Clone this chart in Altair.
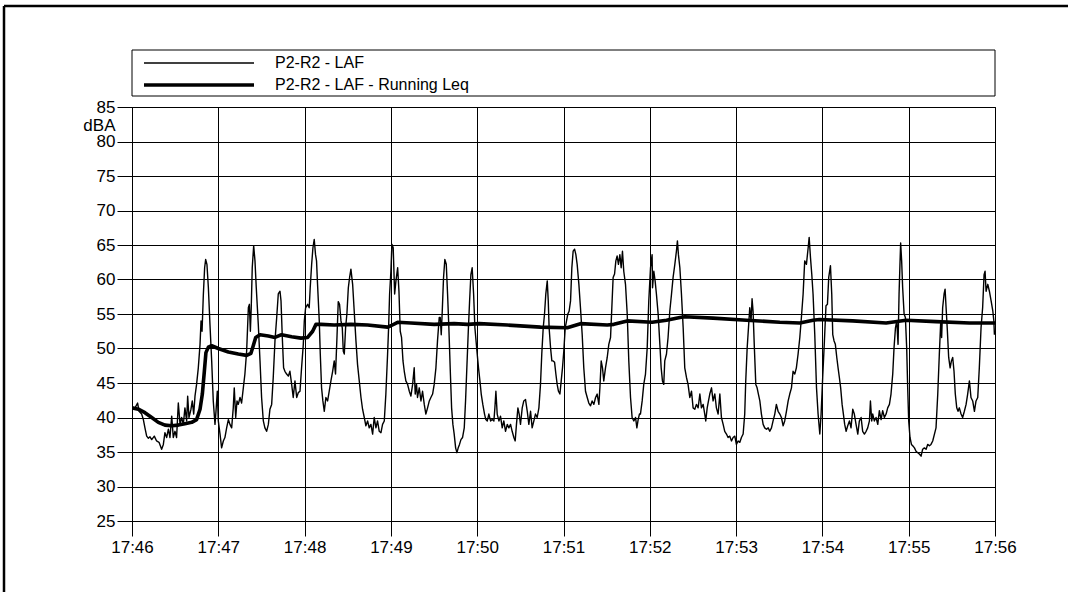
import altair as alt
import pandas as pd

# Sound level record P2-R2, 17:46 - 17:56 (time in seconds after 17:46:00)
laf_sec = [
    0.0, 0.9, 2.1, 3.9, 4.9, 6.7, 7.9, 9.0, 10.2, 11.4, 12.5, 13.7, 15.5, 17.1, 18.8, 20.6,
    21.8, 22.9, 24.1, 25.3, 26.4, 27.6, 28.7, 29.9, 31.0, 32.2, 33.4, 34.5, 35.7, 36.8, 38.0,
    38.7, 39.6, 41.0, 41.9, 42.9, 43.8, 44.9, 46.1, 47.3, 48.0, 48.7, 49.6, 50.5, 51.2, 52.1,
    53.1, 54.2, 55.4, 56.5, 57.7, 58.4, 59.3, 60.0, 61.2, 62.3, 63.5, 64.6, 65.8, 67.0, 68.1,
    69.3, 70.4, 71.1, 72.1, 73.0, 73.9, 75.1, 76.2, 77.4, 78.5, 79.7, 80.9, 81.6, 82.3, 82.9,
    83.6, 84.6, 85.5, 86.4, 87.8, 89.0, 90.1, 91.3, 92.4, 93.6, 94.8, 95.9, 97.1, 98.2, 99.4,
    100.6, 101.7, 102.9, 103.6, 104.5, 105.4, 106.3, 107.5, 108.7, 109.8, 111.0, 112.1, 113.3,
    114.5, 115.6, 116.8, 117.9, 119.1, 119.8, 120.7,
    122.1, 123.2, 123.9, 124.9, 125.8, 126.7, 127.6, 128.3, 129.0, 130.2, 130.9, 131.8, 132.7,
    133.7, 134.8, 136.0, 137.1, 138.3, 139.5, 140.6, 141.5, 142.5, 143.4, 144.3, 145.3, 146.2,
    146.9, 147.6, 148.5, 149.4, 150.4, 151.3, 152.2, 153.4, 154.5, 155.7, 156.8, 158.0, 159.2,
    160.3, 161.5, 162.6, 163.8, 164.9, 166.1, 167.3, 168.4, 169.6, 170.7, 171.9, 173.1, 174.2,
    175.4, 176.5, 177.7, 178.4, 179.1, 180.0, 180.7, 181.6, 182.6, 183.5, 184.7, 185.6, 186.5,
    187.4, 188.4, 189.3, 190.4, 191.6, 192.8, 193.9, 195.1, 196.2, 196.9, 197.8, 198.5, 199.7,
    200.9, 202.0, 203.2, 204.3, 205.5, 206.7, 207.8, 209.0, 210.1, 211.3, 212.4, 213.6, 214.3,
    215.0, 215.7, 216.6, 217.5, 218.5, 219.4, 220.3, 221.3, 222.2, 223.1, 224.0, 225.0, 225.9,
    226.8, 227.7, 228.7, 229.8, 231.0, 231.9, 232.8, 233.8, 234.7, 235.6, 236.5, 237.5, 238.4,
    240.0, 240.9, 241.9, 242.8, 243.9, 245.1, 246.0, 247.0, 248.1, 249.3, 250.4, 251.6, 252.3,
    253.0, 253.9, 255.1, 256.2, 257.4, 258.5, 259.7, 260.9, 262.0, 263.2, 264.3, 265.5, 266.4,
    267.3, 268.3, 269.2, 270.1, 271.3, 272.4, 273.6, 274.8, 275.9, 277.1, 278.2, 279.4, 280.5,
    281.7, 282.9, 284.0, 284.9, 285.9, 286.8, 287.7, 288.7, 289.4, 290.0, 291.0, 291.9, 292.8,
    293.8, 294.7, 295.6, 296.5, 297.5, 298.4, 299.3, 300.2, 301.2, 302.1, 303.0, 303.9, 304.9,
    305.8, 306.7, 307.7, 308.6, 309.5, 310.7, 311.8, 313.0, 314.1, 315.3, 316.5, 317.6, 318.8,
    319.9, 321.1, 322.3, 323.4, 324.6, 325.3, 326.2, 327.1, 328.0, 329.2, 330.4, 331.5, 332.7,
    333.6, 334.5, 335.5, 336.4, 337.3, 338.2, 339.2, 340.1, 341.0, 341.9, 343.1, 344.3, 345.4,
    346.6, 347.7, 348.9, 350.1, 351.0, 351.9, 352.8, 353.5, 354.7, 355.8, 357.0, 358.2, 359.3,
    360.5, 361.6, 361.9, 362.8, 363.7, 364.6, 365.8, 367.0, 367.9, 368.8, 369.7, 370.4, 371.6,
    372.7, 373.9, 375.1, 376.2, 377.4, 378.5, 379.2, 379.9, 380.9, 382.0, 383.2, 384.3, 385.5,
    386.6, 387.8, 389.0, 390.1, 391.3, 392.4, 393.6, 394.8, 395.9, 397.1, 398.2, 398.9, 399.9,
    400.8, 401.7, 402.9, 404.0, 405.2, 406.3, 407.5, 408.7, 409.8, 411.0, 412.1, 413.3, 414.4,
    415.6, 416.8, 417.9, 419.1, 420.2, 421.4, 422.6, 423.7, 424.9, 426.0, 426.7, 427.7, 428.6,
    429.5, 430.4, 431.1, 431.8, 432.7, 433.7, 434.6, 435.5, 436.5, 437.6, 438.8, 439.9, 441.1,
    442.3, 443.4, 444.6, 445.7, 446.9, 448.0, 449.2, 450.4, 451.5, 452.7, 453.8, 455.0, 456.2,
    457.3, 458.5, 459.6, 460.8, 461.9, 463.1, 464.3, 465.4, 466.6, 467.7, 468.9, 470.1, 470.8,
    471.7, 472.6, 473.5, 474.7, 475.9, 477.0, 478.2,
    479.1, 480.2, 481.4, 482.5, 483.5, 484.4, 485.6, 486.5, 487.2, 488.1, 489.0, 490.0, 490.9,
    491.8, 492.7, 493.7, 494.6, 495.5, 496.5, 497.6, 498.8, 499.9, 501.1, 502.2, 503.4, 504.6,
    505.7, 506.9, 508.0, 509.2, 510.4, 511.5, 512.7, 513.4, 514.3, 515.0, 516.1, 517.3, 518.5,
    519.6, 520.8, 521.9, 523.1, 524.3, 525.4, 526.6, 527.7, 528.9, 529.8, 530.8, 531.7, 532.6,
    533.3, 534.0, 534.4, 535.1, 535.8, 536.8, 537.7, 538.6, 539.3, 540.0, 540.9, 541.9, 542.8,
    544.0, 545.1, 546.3, 547.4, 548.6, 549.7, 550.9, 552.1, 553.2, 554.4, 555.5, 556.7, 557.9,
    559.0, 560.2, 561.3, 562.3, 562.9, 563.6, 564.6, 565.3, 566.0, 566.9, 567.8, 568.8, 569.7,
    570.6, 571.5, 572.4, 573.4, 574.3, 575.2, 576.4, 577.5, 578.7, 579.9, 581.0, 582.2, 583.3,
    584.5, 585.7, 586.8, 588.0, 589.1, 590.3, 591.4, 592.4, 593.1, 593.8, 595.0, 596.1, 597.3,
    598.5, 599.2, 599.6,
]
laf_db = [
    41.7, 41.2, 41.4, 42.1, 40.9, 40.5, 39.7, 38.5, 37.3, 37.0, 37.2, 36.8, 37.3, 36.6, 36.4, 35.4,
    36.1, 37.8, 37.1, 38.3, 37.1, 40.2, 37.1, 38.0, 37.1, 42.1, 39.0, 40.0, 39.0, 41.4, 39.5,
    43.1, 40.0, 41.2, 42.4, 40.5, 43.1, 44.8, 47.2, 50.6, 54.0, 52.5, 57.8, 61.7, 62.9, 62.2,
    58.8, 53.5, 48.2, 42.4, 39.0, 40.9, 43.8, 39.5, 37.6, 35.6, 36.6, 37.1, 38.5, 39.7, 39.0,
    38.5, 41.4, 44.3, 40.0, 42.4, 41.9, 42.9, 42.1, 44.3, 46.3, 49.6, 55.9, 56.4, 52.5, 55.9,
    61.7, 64.9, 62.7, 58.8, 53.5, 48.2, 42.9, 39.5, 38.5, 38.0, 39.0, 41.2, 41.9, 45.8, 51.1,
    54.5, 57.9, 58.3, 56.9, 51.6, 47.2, 46.7, 46.3, 46.0, 46.7, 44.8, 42.9, 45.3,
    42.9, 43.6, 43.8, 47.2, 50.6, 54.0, 55.9,
    56.4, 55.9, 58.8, 62.2, 64.6, 65.8, 63.6, 62.7, 59.3, 54.0, 49.2, 44.3, 42.4,
    40.9, 42.9, 42.4, 43.8, 45.3, 46.7, 48.2, 46.3, 51.6, 56.8, 56.4, 54.0, 53.0,
    49.6, 49.2, 53.0, 55.0, 58.8, 60.3, 61.5, 59.3, 55.4, 51.1, 47.7, 45.3, 42.9,
    41.2, 40.0, 38.8, 39.5, 38.5, 39.0, 37.6, 40.0, 38.5, 39.5, 38.0, 37.8, 39.0,
    39.5, 43.4, 49.2, 53.0, 57.9, 61.2, 65.1, 64.6, 57.9, 59.8, 61.7, 58.3, 52.5,
    51.6, 48.2, 46.7, 45.3, 44.8, 43.8, 43.1, 44.8, 47.2, 43.4, 44.8, 42.9, 44.3,
    42.4, 43.8, 41.9, 40.5, 41.4, 42.4, 42.9, 43.4, 44.8, 47.2, 51.1, 54.5, 54.5,
    52.0, 55.4, 60.3, 62.9, 62.2, 57.9, 53.0, 46.7, 41.4, 39.0, 37.6, 35.6, 34.9,
    35.6, 36.1, 36.8, 37.1, 38.5, 42.4, 47.2, 52.5, 56.8, 60.7, 61.7, 57.9, 53.0,
    49.2, 47.2, 45.3, 43.4, 41.9, 40.5, 39.7, 39.5, 40.5, 39.5, 39.7, 39.5, 41.4,
    43.8, 40.5, 39.5, 40.2, 38.5, 39.5, 38.0, 39.0, 38.5, 39.0, 38.0, 37.1, 36.6,
    39.0, 41.4, 40.5, 39.0, 41.4, 42.4, 42.6, 40.9, 39.0, 40.9, 38.5, 39.5, 40.5,
    40.0, 41.4, 44.8, 49.2, 53.0, 55.0, 57.9, 59.8, 56.9, 53.0, 50.1, 48.2, 48.2,
    48.0, 46.3, 44.8, 43.8, 43.4, 45.3, 47.2, 49.6, 53.0, 54.0, 55.0, 55.4, 56.9,
    61.7, 64.1, 64.4, 63.6, 62.2, 59.3, 55.9, 52.0, 47.2, 43.8, 42.9, 42.1, 41.7,
    42.4, 41.9, 42.9, 43.4, 41.9, 44.3, 48.2, 47.2, 45.3, 47.2, 48.7, 50.6, 51.6,
    55.9, 60.3, 60.8, 62.7, 63.4, 62.2, 63.6, 61.7, 64.1, 61.2, 59.3, 55.0, 48.2,
    42.9, 40.0, 39.5, 40.0, 38.5, 39.7, 40.5, 40.5, 42.4, 44.8, 46.3, 50.1, 56.9,
    61.7, 63.6, 58.8, 61.2, 59.8, 57.9, 55.0, 50.6, 47.2, 45.3, 44.8, 48.2, 49.2,
    51.6, 55.4, 57.9, 60.3, 62.2, 64.1, 65.6, 63.6, 61.7, 57.9, 53.0, 47.2, 45.8,
    44.8, 42.9, 43.8, 41.4, 41.2, 41.9, 41.4, 43.4, 41.4, 41.9, 40.5, 39.5, 41.4,
    42.4, 43.4, 44.3, 42.4, 43.4, 41.4, 40.5, 43.4, 40.0, 39.0, 38.0, 37.6, 37.1,
    37.3, 36.6, 37.1, 37.3, 36.1, 36.6, 36.4, 37.1, 37.6, 40.5, 45.3, 50.1, 53.0,
    55.9, 54.0, 57.2, 55.4, 50.1, 44.8, 44.3, 43.4, 42.4, 40.5, 39.0, 38.5, 38.3,
    38.5, 38.0, 38.5, 39.5, 40.5, 41.9, 40.9, 40.5, 40.0, 38.8, 39.5, 40.9, 42.4,
    43.4, 44.3, 46.7, 46.3, 47.2, 49.2, 51.6, 54.5, 57.9, 62.7, 62.2, 64.6, 66.1,
    63.2, 60.8, 57.9, 52.0, 44.3, 40.5, 37.6,
    40.5, 45.8, 51.1, 56.2, 56.4, 60.3, 62.0, 57.9, 52.0, 51.1, 50.6, 48.7, 47.2,
    45.8, 44.3, 41.9, 40.5, 39.0, 38.0, 38.8, 39.5, 38.5, 41.2, 40.5, 39.0, 37.6,
    39.5, 40.0, 38.0, 37.6, 38.0, 38.5, 39.5, 42.4, 39.5, 40.5, 39.5, 40.0, 39.0,
    41.0, 39.7, 41.0, 40.0, 40.5, 41.4, 41.9, 43.4, 46.3, 50.1, 53.0, 54.0, 50.6,
    57.9, 62.7, 65.3, 62.7, 58.8, 55.0, 54.5, 50.1, 44.3, 39.5, 37.1, 36.1, 35.9,
    35.6, 35.1, 34.9, 34.7, 34.4, 35.4, 35.6, 35.4, 36.1, 35.9, 36.1, 36.6, 37.6,
    38.5, 43.4, 49.2, 54.0, 51.6, 55.9, 57.9, 58.6, 55.9, 52.5, 48.7, 47.2, 48.2,
    48.7, 46.7, 43.4, 41.4, 40.9, 41.4, 40.5, 40.0, 40.9, 41.9, 43.4, 45.3, 42.9,
    42.4, 40.9, 42.4, 42.9, 47.2, 53.0, 55.9, 60.7, 61.2, 58.3, 59.3, 58.3, 56.9,
    55.4, 54.0, 52.0,
]

# Running Leq of the same record
leq_sec = [
    0.0, 4.4, 9.0, 13.7, 18.3, 22.9, 27.6, 32.2, 36.8, 41.5, 44.9, 47.3, 48.9, 50.3, 51.4,
    53.1, 55.4, 60.0, 67.0, 73.9, 79.7, 82.7, 84.3, 86.0, 89.0, 94.8, 99.4, 104.0, 111.0,
    117.5, 122.1, 125.6, 127.9, 131.4, 140.6, 152.2, 163.8, 177.7, 180.0, 184.7, 193.9,
    210.1, 224.0, 233.3, 241.4, 260.9, 284.0, 302.6, 307.2, 311.8, 330.4, 335.0, 344.3,
    361.6, 371.6, 380.9, 384.3, 404.0, 427.2, 450.4, 464.3, 473.5, 477.9, 501.1, 524.3,
    538.2, 559.0, 582.2, 600.0,
]
leq_db = [
    41.4, 41.2, 40.7, 40.0, 39.3, 38.9, 38.8, 38.9, 39.1, 39.3, 39.7, 41.2, 43.4, 46.7, 49.4,
    50.2, 50.4, 50.0, 49.5, 49.2, 49.0, 49.3, 50.4, 51.6, 52.0, 51.8, 51.6, 52.0, 51.7,
    51.5, 51.6, 52.5, 53.5, 53.5, 53.4, 53.5, 53.4, 53.1, 53.3, 53.8, 53.7,
    53.5, 53.6, 53.5, 53.6, 53.4, 53.1, 53.0, 53.3, 53.6, 53.4, 53.5, 54.0,
    53.8, 54.1, 54.5, 54.6, 54.4, 54.1, 53.8, 53.7, 54.1, 54.2, 54.0, 53.7,
    54.1, 53.9, 53.7, 53.7,
]

series_names = ["P2-R2 - LAF", "P2-R2 - LAF - Running Leq"]
y_ticks = list(range(25, 90, 5))
x_ticks = list(range(0, 601, 60))

df = pd.concat(
    [
        pd.DataFrame({"sec": laf_sec, "db": laf_db, "series": series_names[0]}),
        pd.DataFrame({"sec": leq_sec, "db": leq_db, "series": series_names[1]}),
    ],
    ignore_index=True,
)

W, H = 863, 414
PAD_L, PAD_T, PAD_R, PAD_B = 132, 107, 73, 71
FONT = "Liberation Sans"

lines = (
    alt.Chart(df)
    .mark_line(color="black", clip=True, strokeJoin="round")
    .encode(
        x=alt.X(
            "sec:Q",
            scale=alt.Scale(domain=[0, 600], nice=False, zero=False),
            axis=alt.Axis(
                values=x_ticks,
                labelExpr="'17:' + format(46 + datum.value / 60, '02d')",
                title=None,
                tickSize=15,
                labelPadding=3,
                labelFlush=False,
                labelOverlap=False,
            ),
        ),
        y=alt.Y(
            "db:Q",
            scale=alt.Scale(domain=[25, 85], nice=False, zero=False),
            axis=alt.Axis(
                values=y_ticks,
                tickSize=15,
                labelPadding=2,
                labelFlush=False,
                labelOverlap=False,
                title="dBA",
                titleAngle=0,
                titleAlign="right",
                titleBaseline="middle",
                titleX=-17,
                titleY=18,
                titleFontWeight="normal",
            ),
        ),
        strokeWidth=alt.StrokeWidth(
            "series:N",
            scale=alt.Scale(domain=series_names, range=[1.4, 3.6]),
            legend=alt.Legend(
                title=None,
                orient="none",
                legendX=10,
                legendY=-55,
                symbolType="stroke",
                symbolSize=12100,
                symbolStrokeColor="black",
                clipHeight=22,
                rowPadding=0,
                padding=0,
                labelOffset=19,
                labelLimit=0,
                labelFontSize=16,
                labelFont=FONT,
                labelColor="black",
            ),
        ),
    )
)

single = pd.DataFrame({"k": [0]})

# box around the legend entries, spanning the plot width
legend_box = (
    alt.Chart(single)
    .mark_rect(filled=False, stroke="black", strokeWidth=1)
    .encode(x=alt.value(0), x2=alt.value(W), y=alt.value(-57), y2=alt.value(-11))
)

# outer frame: top and left edges
frame_top = (
    alt.Chart(single)
    .mark_rule(color="black", strokeWidth=2.5)
    .encode(x=alt.value(-128), x2=alt.value(W + PAD_R), y=alt.value(-101))
)
frame_left = (
    alt.Chart(single)
    .mark_rule(color="black", strokeWidth=2.5)
    .encode(x=alt.value(-128), y=alt.value(-101), y2=alt.value(H + PAD_B))
)

chart = (
    alt.layer(frame_top, frame_left, legend_box, lines)
    .properties(
        width=W,
        height=H,
        padding={"left": PAD_L, "top": PAD_T, "right": PAD_R, "bottom": PAD_B},
        autosize=alt.AutoSizeParams(type="none"),
        background="white",
    )
    .configure_view(stroke="black", strokeWidth=1)
    .configure_axis(
        labelFont=FONT,
        labelFontSize=17,
        labelColor="black",
        titleFont=FONT,
        titleFontSize=17,
        titleColor="black",
        domainColor="black",
        tickColor="black",
        gridColor="black",
        gridWidth=1,
        gridOpacity=1,
        domainWidth=1,
        tickWidth=1,
        grid=True,
    )
)

chart.save("out.html", embed_options={"renderer": "svg", "actions": False})
